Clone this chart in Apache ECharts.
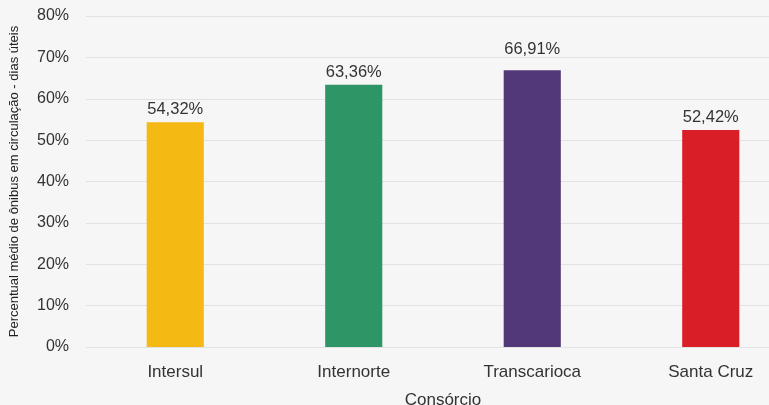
<!DOCTYPE html>
<html><head><meta charset="utf-8">
<script src="https://cdn.jsdelivr.net/npm/echarts@6/dist/echarts.min.js"></script>
<style>html,body{margin:0;padding:0;background:#f6f6f6;}#c{width:769px;height:405px;}</style>
</head><body><div id="c"></div>
<script>
const categories = ['Intersul', 'Internorte', 'Transcarioca', 'Santa Cruz'];
const values = [54.32, 63.36, 66.91, 52.42];
const colors = ['#F4B913', '#2E9566', '#523878', '#DA1E27'];
const yTicks = [0, 10, 20, 30, 40, 50, 60, 70, 80];

const chart = echarts.init(document.getElementById('c'));
chart.setOption({
  backgroundColor: '#f6f6f6',
  textStyle: { fontFamily: 'Liberation Sans, Arial, sans-serif' },
  grid: { left: 86, top: 16, width: 714, height: 331, outerBoundsMode: 'none', containLabel: false },
  xAxis: {
    type: 'category', data: categories,
    axisLine: { show: false }, axisTick: { show: false },
    axisLabel: { fontSize: 17, color: '#333', margin: 17 },
    name: 'Consórcio', nameLocation: 'middle', nameGap: 45,
    nameTextStyle: { fontSize: 17, color: '#333' }
  },
  yAxis: {
    type: 'value', min: yTicks[0], max: yTicks[yTicks.length - 1], interval: 10,
    axisLabel: { fontSize: 16, color: '#333', margin: 17, padding: [5, 0, 0, 0], formatter: v => v + '%' },
    splitLine: { lineStyle: { color: '#e2e2e2', width: 1 } },
    axisLine: { show: false }, axisTick: { show: false },
    name: 'Percentual médio de ônibus em circulação - dias úteis',
    nameLocation: 'middle', nameGap: 65,
    nameTextStyle: { fontSize: 13, color: '#222' }
  },
  series: [{
    type: 'bar', barWidth: '32%',
    data: values.map((v, i) => ({
      value: v, itemStyle: { color: colors[i] },
      label: i === 2 ? { offset: [0, -8] } : {}
    })),
    label: {
      show: true, position: 'top', distance: 4, fontSize: 16.5, color: '#333',
      formatter: p => p.value.toFixed(2).replace('.', ',') + '%'
    }
  }]
});
</script></body></html>
